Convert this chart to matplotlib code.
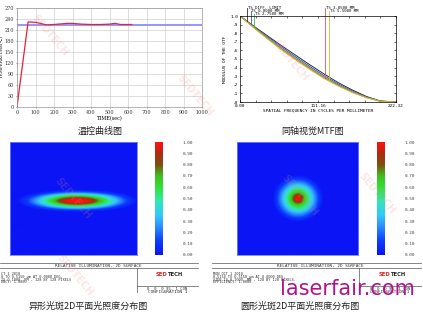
import numpy as np
import matplotlib
matplotlib.use("Agg")
import matplotlib.pyplot as plt
from matplotlib.colors import LinearSegmentedColormap

plt.rcParams['font.family'] = ['DejaVu Sans']

W, H = 423, 322

# temperature control curve
tempTime = [0, 60, 100, 160, 200, 270, 300, 350, 400, 450, 500, 530, 560, 620]
tempValue = [0, 232, 231, 224, 225, 228, 228, 226, 225, 225, 226, 228, 225, 225]
setTime = [0, 1000]
setValue = [225, 225]

# MTF curves (frequency in cycles/mm)
mtfFreq = [0, 20, 40, 60, 80, 100, 120, 140, 160, 180, 200, 222.32]
mtfDiff = [1.0, 0.88, 0.765, 0.65, 0.54, 0.43, 0.325, 0.225, 0.14, 0.065, 0.012, 0.0]
mtfAxis = [1.0, 0.875, 0.755, 0.635, 0.52, 0.41, 0.305, 0.21, 0.128, 0.058, 0.01, 0.0]
mtfField1 = [1.0, 0.87, 0.745, 0.62, 0.505, 0.395, 0.29, 0.2, 0.12, 0.055, 0.01, 0.0]
mtfField2 = [1.0, 0.865, 0.735, 0.61, 0.495, 0.385, 0.28, 0.192, 0.115, 0.052, 0.008, 0.0]
mtfField3 = [1.0, 0.86, 0.728, 0.6, 0.485, 0.375, 0.272, 0.185, 0.11, 0.05, 0.008, 0.0]
mtfSeries = [mtfDiff, mtfAxis, mtfField1, mtfField2, mtfField3]
mtfColors = ["#303030", "#4050d0", "#40c040", "#e05060", "#c8c030"]
mtfLabels = ["TS DIFF. LIMIT", "TS 0.0000 MM", "TS 2.7500 MM", "TS 3.8500 MM", "TS 5.5000 MM"]
mtfLeaderFreq = [10, 15, 20, 121, 127]

# relative illumination profiles: intensity vs normalised radius
ellipseRadius = [0.0, 0.2, 0.32, 0.45, 0.6, 0.75, 0.9, 1.1, 1.35]
ellipseLevel = [1.0, 1.0, 0.93, 0.75, 0.6, 0.45, 0.3, 0.12, 0.0]
circleRadiusPts = [0.0, 0.12, 0.22, 0.35, 0.5, 0.7, 0.9, 1.15, 1.4]
circleLevel = [1.0, 0.97, 0.85, 0.7, 0.58, 0.43, 0.28, 0.12, 0.0]
ellipseCenter = (0.53, 0.52)
ellipseAxes = (0.36, 0.075)
circleCenter = (0.5, 0.5)
circleRadius = 0.15

cbarTicks = [0.0, 0.1, 0.2, 0.3, 0.4, 0.5, 0.6, 0.7, 0.8, 0.9, 1.0]

fig = plt.figure(figsize=(W / 100, H / 100), dpi=100)
fig.patch.set_facecolor("white")


def axPx(l, t, r, b):
    return fig.add_axes([l / W, 1 - b / H, (r - l) / W, (b - t) / H])


def txt(x, y, s, **kw):
    return fig.text(x / W, 1 - y / H, s, **kw)


# --- temperature curve ---
ax = axPx(17, 8, 202, 107)
ax.plot(setTime, setValue, color="#8c8cff", lw=1.3)
ax.plot(tempTime, tempValue, color="#e8203a", lw=0.9)
ax.set_xlim(0, 1000)
ax.set_ylim(0, 270)
ax.set_xticks(range(0, 1001, 100))
ax.set_yticks(range(0, 271, 30))
ax.grid(color="#d0d0d0", lw=0.5)
ax.tick_params(labelsize=3.5, length=1, width=0.4, pad=1, colors="#333333")
for lab in ax.get_xticklabels() + ax.get_yticklabels():
    lab.set_fontfamily("DejaVu Serif")
for s in ax.spines.values():
    s.set_linewidth(0.5)
    s.set_color("#999999")
ax.set_xlabel("TIME(sec)", fontsize=3.5, labelpad=1, family="DejaVu Serif")
ax.set_ylabel("TEMPERATURE(\u2103)", fontsize=3.0, labelpad=0.5, family="DejaVu Serif")

# --- MTF ---
ax2 = axPx(240, 16, 396, 102)
for vals, col in zip(mtfSeries, mtfColors):
    ax2.plot(mtfFreq, vals, color=col, lw=0.7)
ax2.set_xlim(0, 222.32)
ax2.set_ylim(0, 1.0)
ax2.set_xticks([0, 111.16, 222.32])
ax2.set_xticklabels(["0.00", "111.16", "222.32"])
ax2.set_xticks(np.arange(0, 222, 22.232), minor=True)
ax2.set_yticks(np.arange(0, 1.01, 0.1))
ax2.set_yticklabels(["1.0" if v > 0.99 else ("%.1f" % v)[1:] for v in np.arange(0, 1.01, 0.1)])
ax2.tick_params(which="both", direction="in", top=True, right=True, length=1.5,
                width=0.4, labelsize=3.2, pad=1.5)
for lab in ax2.get_xticklabels() + ax2.get_yticklabels():
    lab.set_fontfamily("DejaVu Sans Mono")
for s in ax2.spines.values():
    s.set_linewidth(0.5)
ax2.set_xlabel("SPATIAL FREQUENCY IN CYCLES PER MILLIMETER", fontsize=3.2,
               labelpad=0.5, family="DejaVu Sans Mono")
ax2.set_ylabel("MODULUS OF THE OTF", fontsize=3.2, labelpad=2, family="DejaVu Sans Mono")
leaderTops = [1.095, 1.06, 1.025, 1.095, 1.055]
for f, vals, col, lab, top in zip(mtfLeaderFreq, mtfSeries, mtfColors, mtfLabels, leaderTops):
    y0 = np.interp(f, mtfFreq, vals)
    ax2.plot([f, f], [y0, top], color=col, lw=0.6, clip_on=False)
    ax2.text(f + 1, top, lab, fontsize=2.8, family="DejaVu Sans Mono",
             va="center", ha="left", clip_on=False)

# --- illumination maps ---
cmap = LinearSegmentedColormap.from_list("zemax", [
    (0.0, "#0a14f5"), (0.12, "#0a3cff"), (0.25, "#2a8cff"), (0.35, "#33c8ff"),
    (0.48, "#30e8b0"), (0.6, "#34e034"), (0.7, "#40c020"), (0.8, "#7a5010"),
    (0.9, "#b02a10"), (1.0, "#ff1010")])

n = 128
gx, gy = np.meshgrid(np.linspace(0, 1, n), np.linspace(0, 1, n))
rEllipse = np.hypot((gx - ellipseCenter[0]) / ellipseAxes[0], (gy - ellipseCenter[1]) / ellipseAxes[1])
rCircle = np.hypot(gx - circleCenter[0], gy - circleCenter[1]) / circleRadius
maps = [np.interp(rEllipse, ellipseRadius, ellipseLevel),
        np.interp(rCircle, circleRadiusPts, circleLevel)]

imBoxes = [(10, 142, 137, 255), (237, 142, 358, 255)]
cbBoxes = [(155, 142, 163, 255), (377, 142, 385, 255)]
for data, ib, cb in zip(maps, imBoxes, cbBoxes):
    axi = axPx(*ib)
    im = axi.imshow(data, cmap=cmap, vmin=0, vmax=1, aspect="auto", origin="upper",
                    interpolation="bilinear")
    axi.set_xticks([])
    axi.set_yticks([])
    for s in axi.spines.values():
        s.set_color("#7080ff")
        s.set_linewidth(0.6)
    cax = axPx(*cb)
    cbar = fig.colorbar(im, cax=cax, ticks=cbarTicks)
    cbar.outline.set_visible(False)
    cax.set_yticklabels(["%.2f" % v for v in cbarTicks])
    cax.tick_params(length=0, pad=14, labelsize=3.2, colors="#444444")
    for lab in cax.get_yticklabels():
        lab.set_fontfamily("DejaVu Sans Mono")

# --- report footers ---
mono = dict(family="DejaVu Sans Mono", color="#333333")
lineKw = dict(color="#555555", lw=0.5)
footers = [
    dict(x0=0, x1=198, div=137, title_x=98,
         info=["CT 1 2010", "0 TO 0.5150 \u03bcm AT 0.0000 DEG.",
               "IS 0.1000  MM , 128 BY 128 PIXELS", "ENCY: 1.0000"]),
    dict(x0=212, x1=421, div=359, title_x=320,
         info=["MON OCT 1 2010", "0.5150 TO 0.5150 \u03bcm AT 0.0000 DEG.",
               "SIDE IS 0.1000  MM , 128 BY 128 PIXELS.", "EFFICIENCY: 1.0000"]),
]
for ft in footers:
    fig.add_artist(plt.Line2D([ft["x0"] / W, ft["x1"] / W], [1 - 263 / H] * 2, **lineKw))
    fig.add_artist(plt.Line2D([ft["x0"] / W, ft["x1"] / W], [1 - 268 / H] * 2, **lineKw))
    fig.add_artist(plt.Line2D([ft["div"] / W] * 2, [1 - 268 / H, 1 - 292 / H], **lineKw))
    fig.add_artist(plt.Line2D([ft["div"] / W, ft["x1"] / W], [1 - 286 / H] * 2, **lineKw))
    txt(ft["title_x"], 265.5, "RELATIVE ILLUMINATION, 2D SURFACE", fontsize=3.2,
        ha="center", va="center", **mono)
    for k, line in enumerate(ft["info"]):
        txt(ft["x0"] + 1, 274 + k * 2.8, line, fontsize=2.6, ha="left", va="center", **mono)
    lx = (ft["div"] + ft["x1"]) / 2
    txt(lx, 275, "SED", fontsize=3.8, weight="bold", color="#e02020", ha="right", va="center")
    txt(lx, 275, "TECH", fontsize=3.8, weight="bold", color="#222222", ha="left", va="center")
    txt(lx, 288.5, "0  0  0 95- 1 CON", fontsize=2.8, ha="center", va="center", **mono)
    txt(lx, 292, "CONFIGURATION 1", fontsize=3.2, ha="center", va="center", **mono)

# --- captions ---
cjk = ["Noto Sans CJK SC", "DejaVu Sans"]
txt(100, 131, "温控曲线图", fontsize=6.5, ha="center", va="center", family=cjk, color="#222222")
txt(313, 131, "同轴视觉MTF图", fontsize=6.5, ha="center", va="center", family=cjk, color="#222222")
txt(88, 306, "异形光斑2D平面光照度分布图", fontsize=6.5, ha="center", va="center", family=cjk, color="#222222")
txt(300, 306, "圆形光斑2D平面光照度分布图", fontsize=6.5, ha="center", va="center", family=cjk, color="#222222")
txt(347, 289, "laserfair.com", fontsize=15, ha="center", va="center", color="#b0148c")

# faint watermarks
for wx, wy in [(50, 35), (290, 60), (73, 198), (300, 195), (377, 193), (75, 275), (195, 95)]:
    txt(wx, wy, "SEDTECH", fontsize=7, color="#f08080", alpha=0.2, rotation=-50,
        ha="center", va="center", weight="bold")

fig.savefig("out.png", dpi=100)
